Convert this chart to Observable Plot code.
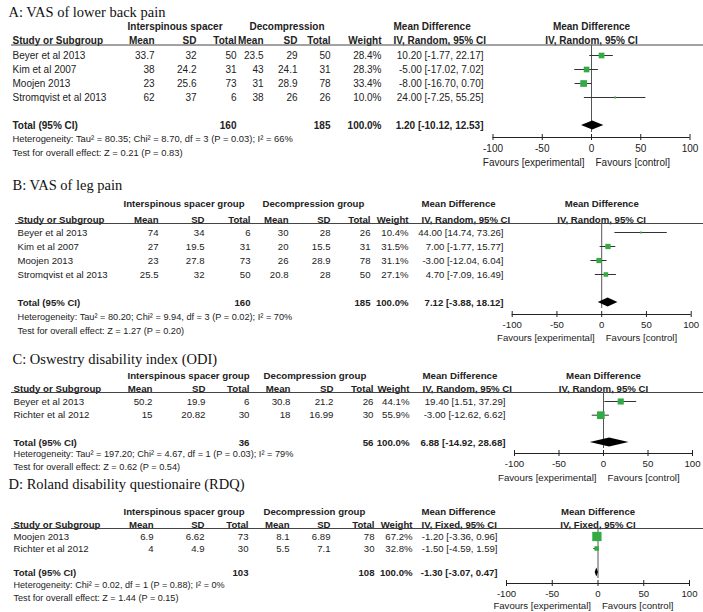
<!DOCTYPE html>
<html><head><meta charset="utf-8">
<script src="https://cdn.jsdelivr.net/npm/d3@7"></script>
<script src="https://cdn.jsdelivr.net/npm/@observablehq/plot@0.6"></script>
<style>
html,body{margin:0;padding:0;background:#fff;}
#chart{position:relative;width:703px;height:612px;overflow:hidden;background:#fff;}
#chart svg{position:absolute;left:0;top:0;}
</style></head><body><div id="chart"></div>
<script>
// ---------- shared labels ----------
const panelTitles = ["A: VAS of lower back pain", "B: VAS of leg pain", "C: Oswestry disability index (ODI)", "D: Roland disability questionaire (RDQ)"];
const spacerGroupLabels = ["Interspinous spacer", "Interspinous spacer group", "Interspinous spacer group", "Interspinous spacer group"];
const decompGroupLabels = ["Decompression", "Decompression group", "Decompression group", "Decompression group"];
const methodLabels = ["IV, Random, 95% CI", "IV, Random, 95% CI", "IV, Random, 95% CI", "IV, Fixed, 95% CI"];
const columnHeaders = ["Study or Subgroup", "Mean", "SD", "Total", "Mean", "SD", "Total", "Weight"];
const effectHeader = "Mean Difference";
const totalLabel = "Total (95% CI)";
const axisTicks = [-100, -50, 0, 50, 100];
const favoursLabels = ["Favours [experimental]", "Favours [control]"];

// ---------- A: VAS of lower back pain ----------
const studiesA = ["Beyer et al 2013", "Kim et al 2007", "Moojen 2013", "Stromqvist et al 2013"];
const spacerMeanA = [33.7, 38, 23, 62];
const spacerSDA = [32, 24.2, 25.6, 37];
const spacerNA = [50, 31, 73, 6];
const decompMeanA = [23.5, 43, 31, 38];
const decompSDA = [29, 24.1, 28.9, 26];
const decompNA = [50, 31, 78, 26];
const weightA = [28.4, 28.3, 33.4, 10.0];
const mdA = [10.20, -5.00, -8.00, 24.00];
const lowerA = [-1.77, -17.02, -16.70, -7.25];
const upperA = [22.17, 7.02, 0.70, 55.25];
const totalA = [160, 185, 1.20, -10.12, 12.53];
const heterogeneityA = "Heterogeneity: Tau\u00b2 = 80.35; Chi\u00b2 = 8.70, df = 3 (P = 0.03); I\u00b2 = 66%";
const overallA = "Test for overall effect: Z = 0.21 (P = 0.83)";

// ---------- B: VAS of leg pain ----------
const studiesB = ["Beyer et al 2013", "Kim et al 2007", "Moojen 2013", "Stromqvist et al 2013"];
const spacerMeanB = [74, 27, 23, 25.5];
const spacerSDB = [34, 19.5, 27.8, 32];
const spacerNB = [6, 31, 73, 50];
const decompMeanB = [30, 20, 26, 20.8];
const decompSDB = [28, 15.5, 28.9, 28];
const decompNB = [26, 31, 78, 50];
const weightB = [10.4, 31.5, 31.1, 27.1];
const mdB = [44.00, 7.00, -3.00, 4.70];
const lowerB = [14.74, -1.77, -12.04, -7.09];
const upperB = [73.26, 15.77, 6.04, 16.49];
const totalB = [160, 185, 7.12, -3.88, 18.12];
const heterogeneityB = "Heterogeneity: Tau\u00b2 = 80.20; Chi\u00b2 = 9.94, df = 3 (P = 0.02); I\u00b2 = 70%";
const overallB = "Test for overall effect: Z = 1.27 (P = 0.20)";

// ---------- C: Oswestry disability index ----------
const studiesC = ["Beyer et al 2013", "Richter et al 2012"];
const spacerMeanC = [50.2, 15];
const spacerSDC = [19.9, 20.82];
const spacerNC = [6, 30];
const decompMeanC = [30.8, 18];
const decompSDC = [21.2, 16.99];
const decompNC = [26, 30];
const weightC = [44.1, 55.9];
const mdC = [19.40, -3.00];
const lowerC = [1.51, -12.62];
const upperC = [37.29, 6.62];
const totalC = [36, 56, 6.88, -14.92, 28.68];
const heterogeneityC = "Heterogeneity: Tau\u00b2 = 197.20; Chi\u00b2 = 4.67, df = 1 (P = 0.03); I\u00b2 = 79%";
const overallC = "Test for overall effect: Z = 0.62 (P = 0.54)";

// ---------- D: Roland disability questionaire ----------
const studiesD = ["Moojen 2013", "Richter et al 2012"];
const spacerMeanD = [6.9, 4];
const spacerSDD = [6.62, 4.9];
const spacerND = [73, 30];
const decompMeanD = [8.1, 5.5];
const decompSDD = [6.89, 7.1];
const decompND = [78, 30];
const weightD = [67.2, 32.8];
const mdD = [-1.20, -1.50];
const lowerD = [-3.36, -4.59];
const upperD = [0.96, 1.59];
const totalD = [103, 108, -1.30, -3.07, 0.47];
const heterogeneityD = "Heterogeneity: Chi\u00b2 = 0.02, df = 1 (P = 0.88); I\u00b2 = 0%";
const overallD = "Test for overall effect: Z = 1.44 (P = 0.15)";

// ---------- tables built from the arrays ----------
const panels = [
  {studies: studiesA, m1: spacerMeanA, s1: spacerSDA, n1: spacerNA, m2: decompMeanA, s2: decompSDA, n2: decompNA, w: weightA, md: mdA, lo: lowerA, hi: upperA, total: totalA, het: heterogeneityA, test: overallA},
  {studies: studiesB, m1: spacerMeanB, s1: spacerSDB, n1: spacerNB, m2: decompMeanB, s2: decompSDB, n2: decompNB, w: weightB, md: mdB, lo: lowerB, hi: upperB, total: totalB, het: heterogeneityB, test: overallB},
  {studies: studiesC, m1: spacerMeanC, s1: spacerSDC, n1: spacerNC, m2: decompMeanC, s2: decompSDC, n2: decompNC, w: weightC, md: mdC, lo: lowerC, hi: upperC, total: totalC, het: heterogeneityC, test: overallC},
  {studies: studiesD, m1: spacerMeanD, s1: spacerSDD, n1: spacerND, m2: decompMeanD, s2: decompSDD, n2: decompND, w: weightD, md: mdD, lo: lowerD, hi: upperD, total: totalD, het: heterogeneityD, test: overallD}
];

// ---------- layout (pixels) ----------
const layouts = [
  {ml: 11, xr: [492.5, 689.5], rowY0: 55, rowH: 14, titleY: 12, h1Y: 26, h2Y: 40, lineY: 44.5, hetY: 138, testY: 152, axisY: 137, favY: 162, zeroEnd: 132, R: 11.3, fs: 10, noteFs: 9.4,
   x: {title: 8, study: 12, g1: 127, g2: 249, m1: 154, s1: 196, n1: 236, m2: 263, s2: 297, n2: 330, w: 381, ci: 483, ciHead: 393}},
  {ml: 15, xr: [511.7, 690.7], rowY0: 232, rowH: 14, titleY: 185, h1Y: 203, h2Y: 219, lineY: 223, hetY: 317, testY: 331, axisY: 314, favY: 337, zeroEnd: 308, R: 9.5, fs: 9.6, noteFs: 9.2,
   x: {title: 12, study: 17, g1: 123, g2: 262, m1: 158, s1: 204, n1: 250, m2: 288, s2: 330, n2: 370, w: 408, ci: 503, ciHead: 421}},
  {ml: 11, xr: [514, 692], rowY0: 401, rowH: 13.7, titleY: 359, h1Y: 375, h2Y: 388, lineY: 392, hetY: 454, testY: 467, axisY: 453, favY: 477, zeroEnd: 448, R: 7.8, fs: 9.7, noteFs: 9.2,
   x: {title: 12, study: 13, g1: 127, g2: 263, m1: 152, s1: 205, n1: 249, m2: 290, s2: 333, n2: 373, w: 409, ci: 505, ciHead: 422}},
  {ml: 11, xr: [506, 689], rowY0: 536, rowH: 12, titleY: 484, h1Y: 511, h2Y: 524, lineY: 528, hetY: 585, testY: 598, axisY: 583, favY: 605, zeroEnd: 578, R: 7.8, fs: 9.6, noteFs: 9.1,
   x: {title: 8, study: 13, g1: 123, g2: 263, m1: 153, s1: 204, n1: 248, m2: 289, s2: 330, n2: 374, w: 412, ci: 497, ciHead: 421}}
];

const W = 703, H = 612;
const ink = "#222";
const green = "#33aa44";
const sans = "'Liberation Sans', Arial, Helvetica, sans-serif";
const serif = "'Liberation Serif', 'Times New Roman', serif";
const f2 = v => v.toFixed(2);
const ciText = (md, lo, hi) => `${f2(md)} [${f2(lo)}, ${f2(hi)}]`;

function drawPanel(k) {
  const p = panels[k], L = layouts[k];
  const rows = p.studies.map((s, i) => ({study: s, m1: p.m1[i], s1: p.s1[i], n1: p.n1[i], m2: p.m2[i], s2: p.s2[i], n2: p.n2[i], w: p.w[i], md: p.md[i], lo: p.lo[i], hi: p.hi[i], row: i}));
  const tr = rows.length + 1; // total row index
  const R = y => (y - L.rowY0) / L.rowH;
  const dxOf = key => L.x[key] - L.ml;
  const T = (data, opts) => Plot.text(data, {frameAnchor: "left", fill: ink, fontSize: L.fs, fontFamily: sans, ...opts});
  const line = (label, y, key, anchor, extra = {}) => T([label], {y: () => R(y), text: d => d, dx: dxOf(key), textAnchor: anchor, ...extra});
  const bold = {fontWeight: "bold"};

  const marks = [];
  // title
  marks.push(line(panelTitles[k], L.titleY, "title", "start", {fontFamily: serif, fontSize: 14.5, fill: "#111"}));
  // group headers
  marks.push(line(spacerGroupLabels[k], L.h1Y, "g1", "start", bold));
  marks.push(line(decompGroupLabels[k], L.h1Y, "g2", "start", bold));
  marks.push(line(effectHeader, L.h1Y, "ciHead", "start", bold));
  marks.push(line(methodLabels[k], L.h2Y, "ciHead", "start", bold));
  // plot headers centred on zero
  marks.push(Plot.text([effectHeader], {x: () => 0, y: () => R(L.h1Y), text: d => d, fontWeight: "bold", fill: ink, fontSize: L.fs, fontFamily: sans}));
  marks.push(Plot.text([methodLabels[k]], {x: () => 0, y: () => R(L.h2Y), text: d => d, fontWeight: "bold", fill: ink, fontSize: L.fs, fontFamily: sans}));
  // column headers
  const colKeys = ["study", "m1", "s1", "n1", "m2", "s2", "n2", "w"];
  columnHeaders.forEach((h, i) => marks.push(line(h, L.h2Y, colKeys[i], i === 0 ? "start" : "end", bold)));
  // header rule
  marks.push(Plot.ruleY([R(L.lineY)], {stroke: "#444", strokeWidth: 1}));
  // study rows
  marks.push(T(rows, {y: "row", text: "study", dx: dxOf("study"), textAnchor: "start"}));
  ["m1", "s1", "n1", "m2", "s2", "n2"].forEach(key =>
    marks.push(T(rows, {y: "row", text: d => String(d[key]), dx: dxOf(key), textAnchor: "end"})));
  marks.push(T(rows, {y: "row", text: d => d.w.toFixed(1) + "%", dx: dxOf("w"), textAnchor: "end"}));
  marks.push(T(rows, {y: "row", text: d => ciText(d.md, d.lo, d.hi), dx: dxOf("ci"), textAnchor: "end"}));
  // total row
  const tot = [{row: tr, n1: p.total[0], n2: p.total[1], md: p.total[2], lo: p.total[3], hi: p.total[4]}];
  marks.push(T(tot, {y: "row", text: () => totalLabel, dx: dxOf("study"), textAnchor: "start", ...bold}));
  marks.push(T(tot, {y: "row", text: d => String(d.n1), dx: dxOf("n1"), textAnchor: "end", ...bold}));
  marks.push(T(tot, {y: "row", text: d => String(d.n2), dx: dxOf("n2"), textAnchor: "end", ...bold}));
  marks.push(T(tot, {y: "row", text: () => (100).toFixed(1) + "%", dx: dxOf("w"), textAnchor: "end", ...bold}));
  marks.push(T(tot, {y: "row", text: d => ciText(d.md, d.lo, d.hi), dx: dxOf("ci"), textAnchor: "end", ...bold}));
  // heterogeneity and overall effect
  marks.push(line(p.het, L.hetY, "study", "start", {fontSize: L.noteFs}));
  marks.push(line(p.test, L.testY, "study", "start", {fontSize: L.noteFs}));

  // forest graphic
  marks.push(Plot.ruleX([0], {y1: R(L.lineY), y2: R(L.zeroEnd), stroke: "#555", strokeWidth: 1}));
  marks.push(Plot.ruleY(rows, {y: "row", x1: "lo", x2: "hi", stroke: "#333", strokeWidth: 1}));
  marks.push(Plot.dot(rows, {x: "md", y: "row", r: "w", symbol: "square", fill: green, stroke: null}));
  const half = 4.5 / L.rowH;
  const diamond = [
    {x: tot[0].lo, y1: tr, y2: tr},
    {x: tot[0].md, y1: tr - half, y2: tr + half},
    {x: tot[0].hi, y1: tr, y2: tr}
  ];
  marks.push(Plot.areaY(diamond, {x: "x", y1: "y1", y2: "y2", fill: "#000", curve: "linear"}));
  // axis line and ticks
  const ar = R(L.axisY), tk = 3 / L.rowH;
  marks.push(Plot.ruleY([ar], {x1: axisTicks[0], x2: axisTicks[axisTicks.length - 1], stroke: "#222", strokeWidth: 1}));
  marks.push(Plot.ruleX(axisTicks, {x: d => d, y1: ar - tk, y2: ar + tk, stroke: "#222", strokeWidth: 1}));
  // favours
  marks.push(Plot.text([favoursLabels[0]], {x: () => 0, y: () => R(L.favY), text: d => d, textAnchor: "end", dx: -7, fill: ink, fontSize: L.fs, fontFamily: sans}));
  marks.push(Plot.text([favoursLabels[1]], {x: () => 0, y: () => R(L.favY), text: d => d, textAnchor: "start", dx: 4, fill: ink, fontSize: L.fs, fontFamily: sans}));

  return Plot.plot({
    width: W, height: H,
    marginLeft: L.ml, marginRight: 0, marginTop: 0, marginBottom: H - L.axisY,
    x: {type: "linear", domain: [axisTicks[0], axisTicks[axisTicks.length - 1]], range: L.xr, ticks: axisTicks, tickSize: 0, tickPadding: 7, tickFormat: d => String(d), label: null},
    y: {type: "linear", domain: [0, 1], range: [L.rowY0, L.rowY0 + L.rowH], axis: null},
    r: {type: "linear", domain: [0, 100], range: [0, L.R]},
    style: {background: "transparent", fontFamily: sans, fontSize: L.fs + "px", color: ink, overflow: "visible"},
    marks
  });
}

const chart = document.getElementById("chart");
panels.forEach((p, k) => chart.appendChild(drawPanel(k)));
</script>
</body></html>
